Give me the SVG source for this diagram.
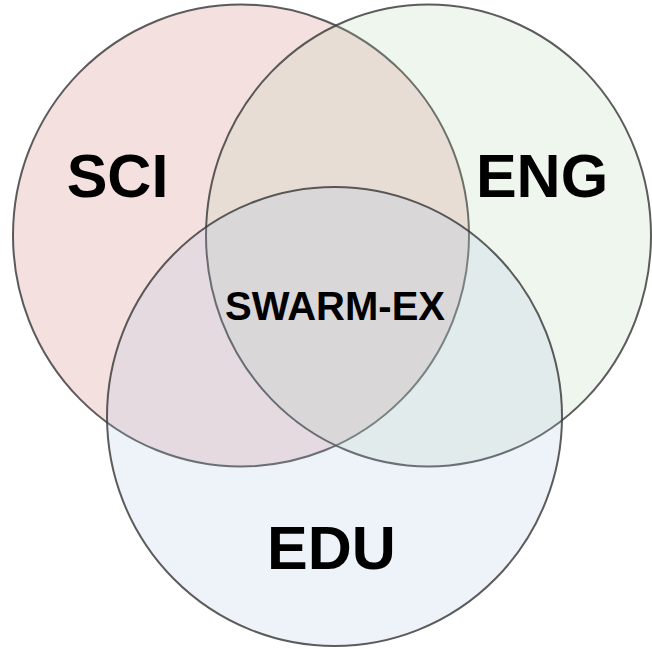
<svg xmlns="http://www.w3.org/2000/svg" width="652" height="649" viewBox="0 0 652 649">
<style>
.c{stroke:#3f3f3f;stroke-width:2;stroke-opacity:0.85}
.big{font-family:"Liberation Sans",Arial,sans-serif;font-weight:bold;font-size:61px;fill:#000;text-anchor:middle}
.mid{font-family:"Liberation Sans",Arial,sans-serif;font-weight:bold;font-size:40px;fill:#000;text-anchor:middle}
</style>
<rect width="652" height="649" fill="#ffffff"/>
<g id="sci">
<ellipse class="c" cx="241" cy="235.5" rx="228" ry="231" fill="rgb(205,100,100)" fill-opacity="0.2"/>
</g>
<g id="eng">
<ellipse class="c" cx="428.5" cy="235.5" rx="222.5" ry="231" fill="rgb(175,210,170)" fill-opacity="0.2"/>
</g>
<g id="edu">
<ellipse class="c" cx="334.5" cy="416.5" rx="227.5" ry="229.5" fill="rgb(170,195,230)" fill-opacity="0.2"/>
</g>
<g id="labels">
<text class="big" x="117.5" y="197">SCI</text>
<text class="big" x="542" y="197">ENG</text>
<text class="big" x="331.5" y="569">EDU</text>
<text class="mid" x="335" y="320">SWARM-EX</text>
</g>
<g id="connectors"/>
</svg>
